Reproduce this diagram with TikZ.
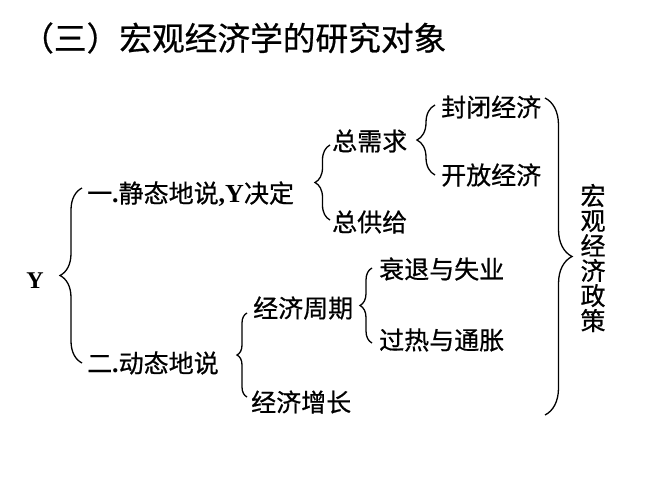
\documentclass[tikz,border=0pt]{standalone}
\usepackage{fontspec}
\setmainfont{Liberation Serif}
\newfontfamily\cjk[FakeBold=0.6]{Noto Sans CJK SC}
\usetikzlibrary{decorations.pathreplacing}
\tikzset{
  lbl/.style={inner sep=0pt, anchor=west, font=\fontsize{25}{25}\selectfont\cjk},
  brc/.style={draw, line width=1.3pt, decorate, decoration={brace, amplitude=#1}},
}
\begin{document}
\begin{tikzpicture}[x=1pt,y=-1pt]
\useasboundingbox[fill=white] (0,0) rectangle (660,495);
% title
\node[inner sep=0pt, anchor=west, font=\fontsize{32.7}{32.7}\selectfont\cjk] (title) at (21,38) {（三）宏观经济学的研究对象};
% nodes
\node[inner sep=0pt, font=\fontsize{24}{24}\selectfont\bfseries] (Y) at (35,281) {Y};
\node[lbl] (jt) at (87,194) {一{\rmfamily\bfseries\fontsize{26}{26}\selectfont .}静态地说{\rmfamily\bfseries\fontsize{26}{26}\selectfont ,Y}决定};
\node[lbl] (dt) at (87,363) {二{\rmfamily\bfseries\fontsize{26}{26}\selectfont .}动态地说};
\node[lbl] (zxq) at (332,141) {总需求};
\node[lbl] (zgj) at (332,222) {总供给};
\node[lbl] (fb) at (441,107) {封闭经济};
\node[lbl] (kf) at (441,175) {开放经济};
\node[lbl] (zq) at (253,308) {经济周期};
\node[lbl] (zz) at (251,402) {经济增长};
\node[lbl] (st) at (379,269) {衰退与失业};
\node[lbl] (gr) at (379,340) {过热与通胀};
\node[inner sep=0pt, align=center, font=\fontsize{25}{25}\selectfont\cjk] (zc) at (593,258) {宏\\观\\经\\济\\政\\策};
% brace end coordinates
\coordinate (b1a) at (82,363); \coordinate (b1b) at (82,188);
\coordinate (b2a) at (330,220); \coordinate (b2b) at (330,145);
\coordinate (b3a) at (435,175); \coordinate (b3b) at (435,105);
\coordinate (b4a) at (545,98);  \coordinate (b4b) at (545,415);
\coordinate (b5a) at (372,343); \coordinate (b5b) at (372,268);
\coordinate (b6a) at (247,397); \coordinate (b6b) at (247,313);
% braces
\draw[brc=22] (b1a) -- (b1b);
\draw[brc=15] (b2a) -- (b2b);
\draw[brc=18] (b3a) -- (b3b);
\draw[brc=27] (b4a) -- (b4b);
\draw[brc=12] (b5a) -- (b5b);
\draw[brc=10] (b6a) -- (b6b);
\end{tikzpicture}
\end{document}
